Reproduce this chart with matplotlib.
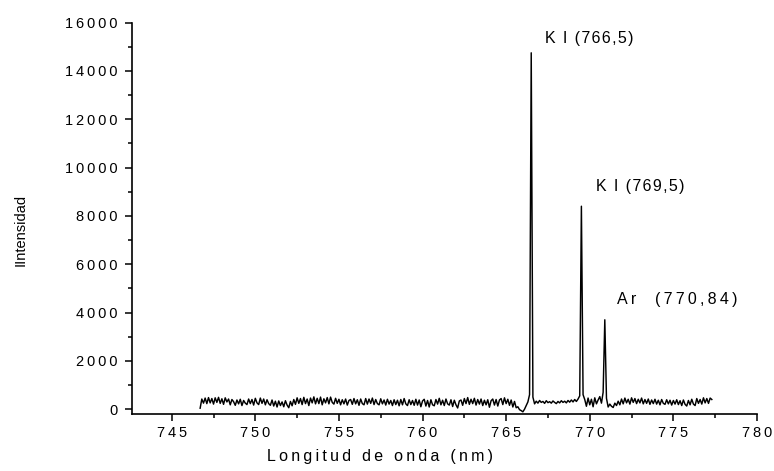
#Plot of the K I / Ar emission spectrum around 766-771 nm
import numpy as np
import matplotlib
matplotlib.use("Agg")
import matplotlib.pyplot as plt
from matplotlib.ticker import MultipleLocator, FuncFormatter

plt.rcParams['font.family'] = ['Liberation Sans', 'DejaVu Sans']

#wavelength sampling of the spectrometer (nm)
wl_start = 746.7
wl_step = 0.1

#measured counts, one row per nm starting at wl_start
intensity = [
    40, 420, 250, 460, 230, 480, 260, 440, 210, 470,
    280, 490, 240, 430, 200, 470, 300, 420, 180, 400,
    310, 160, 380, 220, 410, 150, 360, 250, 190, 420,
    230, 400, 170, 450, 260, 190, 460, 240, 420, 180,
    390, 230, 160, 380, 130, 330, 90, 340, 150, 300,
    100, 350, 170, 60, 320, 140, 400, 200, 470, 240,
    440, 190, 490, 230, 420, 150, 460, 260, 510, 220,
    450, 230, 500, 180, 430, 260, 480, 220, 500, 280,
    210, 450, 240, 410, 180, 390, 220, 420, 170, 360,
    400, 200, 440, 220, 390, 160, 420, 230, 180, 440,
    210, 420, 240, 460, 190, 400, 230, 180, 430, 220,
    380, 170, 410, 210, 360, 150, 390, 190, 370, 140,
    400, 180, 440, 220, 150, 390, 190, 360, 160, 410,
    170, 380, 100, 340, 410, 130, 360, 90, 390, 180,
    140, 400, 210, 450, 180, 370, 150, 420, 220, 170,
    390, 110, 370, 180, 50, 340, 380, 160, 440, 230,
    480, 200, 410, 230, 450, 170, 400, 210, 420, 150,
    370, 180, 390, 80, 350, 420, 170, 400, 130, 380,
    440, 190, 470, 230, 410, 160, 380, 90, 320, 60,
    100, -20, -60, -110, 0, 150, 300, 600, 14750, 500,
    220, 330, 250, 360, 280, 320, 240, 350, 270, 310,
    250, 340, 280, 230, 320, 260, 350, 280, 330, 260,
    360, 290, 380, 300, 400, 320, 420, 550, 8400, 600,
    400, 120, 460, 180, 410, 100, 470, 220, 380, 520,
    250, 700, 3700, 450, 90, 210, 120, 70, 250, 150,
    330, 180, 420, 220, 460, 260, 410, 210, 470, 280,
    440, 230, 410, 260, 460, 220, 400, 240, 420, 200,
    380, 230, 410, 210, 370, 180, 400, 240, 200, 390,
    220, 370, 170, 360, 210, 390, 190, 350, 150, 380,
    200, 130, 360, 180, 410, 210, 150, 440, 240, 400,
    210, 470, 260, 440, 240, 460, 400,
]

wavelength = np.round(wl_start + wl_step * np.arange(len(intensity)), 2)

#line labels: text, wavelength where the label starts, height, letter gap
line_labels = ["K I (766,5)", "K I (769,5)", "Ar  (770,84)"]
label_x = [767.3, 770.35, 771.65]
label_y = [15350, 9200, 4550]
label_gap = ["\u200a", "\u200a", "\u2009"]

def spaced(s, sp="\u2009"):
    return sp.join(s)

fig = plt.figure(figsize=(7.74, 4.71), dpi=100)
ax = fig.add_axes([0.170, 0.121, 0.808, 0.831])

ax.plot(wavelength, intensity, color='black', linewidth=1.05)

ax.set_xlim(742.6, 780)
ax.set_ylim(-200, 16000)

ax.set_xticks([745, 750, 755, 760, 765, 770, 775, 780])
ax.xaxis.set_minor_locator(MultipleLocator(2.5))
ax.yaxis.set_major_locator(MultipleLocator(2000))
ax.yaxis.set_minor_locator(MultipleLocator(1000))
ax.xaxis.set_major_formatter(FuncFormatter(lambda v, p: spaced("%d" % v)))
ax.yaxis.set_major_formatter(FuncFormatter(lambda v, p: spaced("%d" % v)))

ax.tick_params(which='major', direction='out', length=5, width=1.1, labelsize=10.5)
ax.tick_params(axis='y', which='major', pad=5)
ax.tick_params(which='minor', direction='out', length=3, width=1.1)

for side in ['top', 'right']:
    ax.spines[side].set_visible(False)
for side in ['left', 'bottom']:
    ax.spines[side].set_linewidth(1.2)

ax.set_xlabel(spaced("Longitud de onda (nm)"), fontsize=11.5)
ax.xaxis.set_label_coords(0.397, -0.09)
ax.set_ylabel("IIntensidad", fontsize=10.5)
ax.yaxis.set_label_coords(-0.166, 0.47)

for txt, x, y, gap in zip(line_labels, label_x, label_y, label_gap):
    ax.text(x, y, spaced(txt, gap), fontsize=11.5, ha='left', va='center')

fig.savefig("out.png", dpi=100)
